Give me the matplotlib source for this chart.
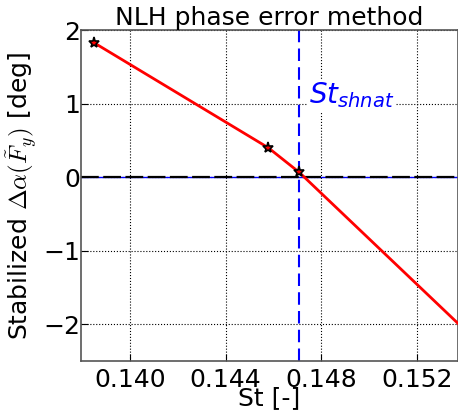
import matplotlib
matplotlib.use("Agg")
import matplotlib.pyplot as plt

# -------------------------------
# DATA
# -------------------------------
st = [0.13849, 0.14578, 0.14708, 0.15371]
dalpha = [1.83, 0.40, 0.064, -1.99]
n_marked = 3              # last point has no star
st_shnat = 0.14708

xticks = [0.140, 0.144, 0.148, 0.152]
xtick_labels = ["0.140", "0.144", "0.148", "0.152"]
yticks = [-2, -1, 0, 1, 2]

# -------------------------------
# FIGURE
# -------------------------------
fig = plt.figure(figsize=(4.58, 4.12), dpi=100)
ax = fig.add_axes([0.177, 0.124, 0.823, 0.803])

ax.grid(True, color="k", linestyle=":", linewidth=0.8)
ax.set_axisbelow(True)

ax.axhline(0, color="b", linewidth=1.0, zorder=2)
ax.axhline(0, color="k", linestyle="--", linewidth=1.6, dashes=(8, 2), zorder=2)
ax.axvline(st_shnat, color="b", linestyle="--", linewidth=1.5, dashes=(6, 3), zorder=2)

ax.plot(st, dalpha, color="r", linewidth=2, marker="*", markersize=8,
        markerfacecolor="r", markeredgecolor="k", markeredgewidth=1.2,
        markevery=list(range(n_marked)), zorder=3)

ax.text(0.14750, 1.0, r"$St_{shnat}$", color="b", fontsize=20,
        math_fontfamily="dejavusans", va="baseline", ha="left",
        bbox=dict(facecolor="white", edgecolor="none", pad=1), zorder=2.5)

ax.set_xlim(0.13796, 0.15371)
ax.set_ylim(-2.5, 2)
ax.set_xticks(xticks)
ax.set_xticklabels(xtick_labels)
ax.set_yticks(yticks)
ax.tick_params(direction="in", labelsize=18, length=5)
ax.tick_params(axis="y", pad=0.5)
ax.tick_params(axis="x", pad=5)

for s in ax.spines.values():
    s.set_color("#555555")
    s.set_linewidth(1.2)

ax.set_title("NLH phase error method", fontsize=18, pad=1)
ax.set_xlabel("St [-]", fontsize=18, labelpad=-4)
ax.set_ylabel(r"Stabilized $\Delta\alpha(\tilde{F}_y)$ [deg]", fontsize=18,
              math_fontfamily="cm", labelpad=3)

fig.savefig("out.png", dpi=100)
